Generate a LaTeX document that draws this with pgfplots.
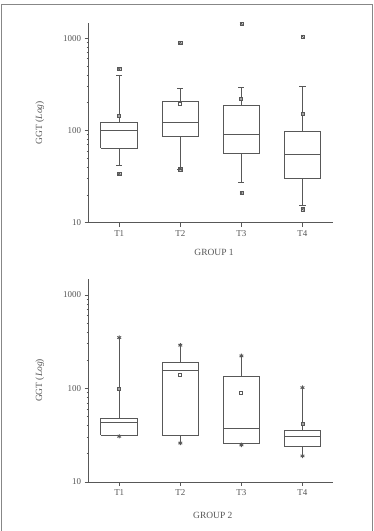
\documentclass[border=0pt]{standalone}
\usepackage{fontspec}
\setmainfont{Liberation Serif}
\usepackage{pgfplots}
\pgfplotsset{compat=1.18}

\definecolor{ink}{RGB}{88,88,88}
\definecolor{txt}{RGB}{85,85,85}
\definecolor{framegray}{RGB}{135,135,135}

\pgfplotsset{
  boxline/.style={draw=ink, line width=0.9bp, solid, mark=none},
  meanmark/.style={only marks, mark=square, mark size=1.5bp,
    draw=ink, line width=0.8bp},
  meanfill/.style={only marks, mark=square*, mark size=1.5bp,
    draw=ink, fill=ink!55, line width=0.8bp},
  outlier/.style={only marks, mark=x, mark size=1.8bp, draw=ink,
    line width=0.8bp},
  outlierbox/.style={only marks, mark=square, mark size=1.6bp, draw=ink,
    line width=0.5bp},
  whiskerend/.style={only marks, mark=asterisk, mark size=2.2bp,
    draw=ink, line width=0.9bp},
}

% box and whiskers: position, lower whisker, Q1, median, Q3, upper whisker, half cap width
\newcommand{\gbox}[7]{%
  \pgfmathsetmacro\boxl{#1-0.3}\pgfmathsetmacro\boxr{#1+0.3}%
  \pgfmathsetmacro\capl{#1-#7}\pgfmathsetmacro\capr{#1+#7}%
  \addplot[boxline] coordinates {(\boxl,#3) (\boxr,#3) (\boxr,#5) (\boxl,#5) (\boxl,#3)};
  \addplot[boxline] coordinates {(\boxl,#4) (\boxr,#4)};
  \addplot[boxline] coordinates {(#1,#5) (#1,#6)};
  \addplot[boxline] coordinates {(#1,#3) (#1,#2)};
  \addplot[boxline] coordinates {(\capl,#6) (\capr,#6)};
  \addplot[boxline] coordinates {(\capl,#2) (\capr,#2)};
}

\begin{document}
\begin{tikzpicture}[x=1bp, y=1bp]
\path[use as bounding box] (0,0) rectangle (373,531);
\draw[framegray, line width=1bp] (1,0) -- (1,526.5) -- (372,526.5) -- (372,0);

% ---------------- GROUP 1 ----------------
\begin{axis}[
    scale only axis, width=244.3bp, height=200bp,
    at={(88.7bp,308.3bp)}, anchor=south west,
    xmin=0.5, xmax=4.5,
    ymode=log, ymin=10, ymax=1480,
    axis x line=bottom, axis y line=left,
    axis line style={-, draw=ink, line width=0.9bp},
    xtick={1,2,3,4}, xticklabels={T1,T2,T3,T4},
    ytick={10,100,1000}, yticklabels={10,100,1000},
    tick align=outside, major tick length=4bp, minor tick length=2.2bp,
    every tick/.style={draw=ink, line width=0.7bp},
    tick label style={font=\fontsize{9}{10}\selectfont, text=txt},
    label style={font=\fontsize{9.5}{11}\selectfont, text=txt},
    ylabel={GGT (\textit{Log})},
    ylabel style={at={(axis description cs:-0.2,0.5)}, anchor=center},
    xlabel={GROUP 1},
    xlabel style={at={(axis description cs:0.513,-0.147)}, anchor=center},
    clip=false]
  \gbox{1}{42}{64}{101}{122}{394}{0.05}
  \gbox{2}{38}{86.5}{123}{207}{289}{0.05}
  \gbox{3}{27}{57}{91}{188}{291}{0.05}
  \gbox{4}{15.2}{30}{55}{97}{299}{0.05}
  % means
  \addplot[meanfill] coordinates {(1,145) (3,220) (4,153)};
  \addplot[meanmark] coordinates {(2,194)};
  % extreme values
  \addplot[outlier] coordinates {(1,464) (1,34) (2,898) (2,38) (3,1442) (3,21) (4,1051) (4,14)};
  \addplot[outlierbox] coordinates {(1,464) (1,34) (2,898) (2,38) (3,1442) (3,21) (4,1051) (4,14)};
\end{axis}

% ---------------- GROUP 2 ----------------
\begin{axis}[
    scale only axis, width=244.3bp, height=203bp,
    at={(88.7bp,49bp)}, anchor=south west,
    xmin=0.5, xmax=4.5,
    ymode=log, ymin=10, ymax=1480,
    axis x line=bottom, axis y line=left,
    axis line style={-, draw=ink, line width=0.9bp},
    xtick={1,2,3,4}, xticklabels={T1,T2,T3,T4},
    ytick={10,100,1000}, yticklabels={10,100,1000},
    tick align=outside, major tick length=4bp, minor tick length=2.2bp,
    every tick/.style={draw=ink, line width=0.7bp},
    tick label style={font=\fontsize{9}{10}\selectfont, text=txt},
    label style={font=\fontsize{9.5}{11}\selectfont, text=txt},
    ylabel={GGT (\textit{Log})},
    ylabel style={at={(axis description cs:-0.2,0.5)}, anchor=center},
    xlabel={GROUP 2},
    xlabel style={at={(axis description cs:0.508,-0.163)}, anchor=center},
    clip=false]
  \gbox{1}{30.8}{31.8}{43.5}{48}{350}{0}
  \gbox{2}{26.1}{31.8}{154}{190}{290}{0}
  \gbox{3}{24.9}{25.9}{37.2}{135}{223}{0}
  \gbox{4}{19}{23.9}{30.8}{35.7}{102}{0}
  % means
  \addplot[meanfill] coordinates {(1,100) (4,42)};
  \addplot[meanmark] coordinates {(2,138) (3,88.7)};
  % whisker ends
  \addplot[whiskerend] coordinates {(1,350) (1,30.8) (2,290) (2,26.1) (3,223) (3,24.9) (4,102) (4,19)};
\end{axis}
\end{tikzpicture}
\end{document}
